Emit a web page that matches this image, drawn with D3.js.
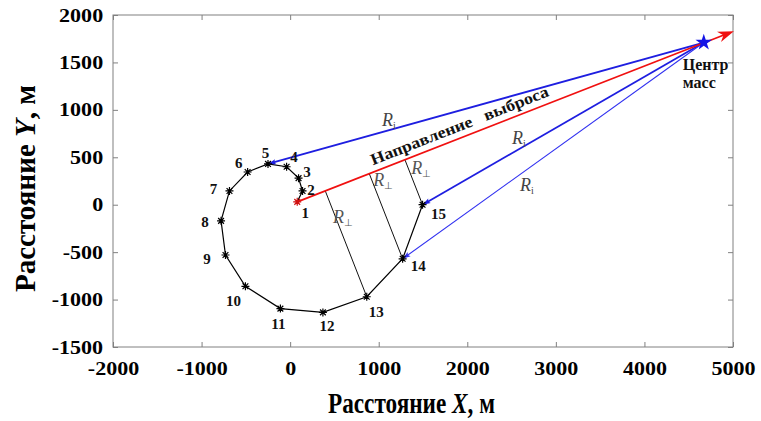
<!DOCTYPE html>
<html><head><meta charset="utf-8">
<script src="https://cdn.jsdelivr.net/npm/d3@7"></script>
<style>
html,body{margin:0;padding:0;background:#fff;}
svg{display:block;}
text{font-family:"Liberation Serif","Times New Roman",serif;}
</style></head>
<body>
<svg id="chart" width="761" height="421"></svg>
<script>
// ---------- data ----------
const xTicks = [-2000, -1000, 0, 1000, 2000, 3000, 4000, 5000];
const yTicks = [-1500, -1000, -500, 0, 500, 1000, 1500, 2000];
const pointIds = [1, 2, 3, 4, 5, 6, 7, 8, 9, 10, 11, 12, 13, 14, 15];
const pointX = [80, 140, 95, -40, -250, -480, -685, -780, -730, -505, -110, 370, 865, 1270, 1495];
const pointY = [30, 145, 280, 400, 430, 345, 145, -170, -530, -860, -1095, -1135, -970, -570, 0];
const centerOfMass = [4670, 1710];
const directionEnd = [5010, 1830];
const rayTargets = [5, 15, 14];          // blue R_i rays: centre of mass -> point
const perpSources = [13, 14, 15];        // R_perp: point -> emission direction
const riLabels = [[1038, 833], [2506, 643], [2596, 148]];
const rpLabels = [[485, -190], [937, 200], [1366, 327]];

// ---------- layout ----------
const svg = d3.select("#chart");
const L = 113, R = 733, T = 15, B = 347;
const x = d3.scaleLinear().domain([-2000, 5000]).range([L, R]);
const y = d3.scaleLinear().domain([-1500, 2000]).range([B, T]);
const frameColor = "#808080";
const fmt = d => String(d);

// label offsets (px) relative to each point
const labelOffsets = [[8,11],[8.5,-1],[8.5,-6],[7.5,-9.5],[-2.5,-11],[-9,-9],[-16,-2],[-16,1.5],[-18.5,4],[-12,15],[-2,15],[4,13.5],[9.5,15.5],[15.5,7],[16,9.5]];

// ---------- axes ----------
function styleAxis(g, hideText){
  g.select(".domain").remove();
  g.selectAll(".tick line").attr("stroke", frameColor).attr("stroke-width", 1);
  if (hideText) g.selectAll(".tick text").remove();
}
function styleTickText(g){
  g.selectAll(".tick text").attr("font-size", 19).attr("font-weight", "bold")
    .attr("fill", "#000").style("font-family", '"Liberation Serif", serif')
    .attr("transform", "scale(1.16,1)");
}
const gl = svg.append("g").attr("transform", `translate(${L},0)`)
  .call(d3.axisLeft(y).tickValues(yTicks).tickSize(-5).tickPadding(8.5).tickFormat(fmt));
styleAxis(gl, false); styleTickText(gl);
const gb = svg.append("g").attr("transform", `translate(0,${B})`)
  .call(d3.axisBottom(x).tickValues(xTicks).tickSize(-5).tickPadding(15).tickFormat(fmt));
styleAxis(gb, false); styleTickText(gb);
const gt = svg.append("g").attr("transform", `translate(0,${T})`)
  .call(d3.axisTop(x).tickValues(xTicks).tickSize(-5));
styleAxis(gt, true);
const gr = svg.append("g").attr("transform", `translate(${R},0)`)
  .call(d3.axisRight(y).tickValues(yTicks).tickSize(-5));
styleAxis(gr, true);
svg.append("rect").attr("x", L).attr("y", T).attr("width", R - L).attr("height", B - T)
  .attr("fill", "none").attr("stroke", frameColor).attr("stroke-width", 1);

// ---------- titles ----------
function title(transform, letter, target){
  const g = svg.append("g").attr("transform", transform);
  const t = g.append("text").attr("text-anchor", "middle").attr("font-size", 29).attr("font-weight", "bold");
  t.append("tspan").text("Расстояние ");
  t.append("tspan").attr("font-style", "italic").text(letter);
  t.append("tspan").text(", м");
  const len = t.node().getComputedTextLength();
  t.attr("transform", `scale(${target / len},1)`);
}
title("translate(35,188.5) rotate(-90)", "Y", 207);
title("translate(411.5,413)", "X", 167);

// ---------- geometry helpers ----------
const pts = pointIds.map((id, i) => ({id, px: x(pointX[i]), py: y(pointY[i])}));
const ptById = id => pts.find(p => p.id === id);
const cm = {px: x(centerOfMass[0]), py: y(centerOfMass[1])};
const p1 = ptById(1);
const dirEnd = {px: x(directionEnd[0]), py: y(directionEnd[1])};
const ux0 = cm.px - p1.px, uy0 = cm.py - p1.py, ul = Math.hypot(ux0, uy0);
const ux = ux0 / ul, uy = uy0 / ul;

function arrowHead(g, tip, from, len, wid, color, notch){
  const dx = tip.px - from.px, dy = tip.py - from.py, l = Math.hypot(dx, dy);
  const ax = dx / l, ay = dy / l, nx = -ay, ny = ax;
  const bx = tip.px - ax * len, by = tip.py - ay * len;
  const mx = tip.px - ax * len * (1 - notch), my = tip.py - ay * len * (1 - notch);
  g.append("path").attr("d", `M${tip.px},${tip.py}L${bx + nx * wid / 2},${by + ny * wid / 2}L${mx},${my}L${bx - nx * wid / 2},${by - ny * wid / 2}Z`)
    .attr("fill", color).attr("stroke", "none");
}

// ---------- loop path ----------
const line = d3.line().x(d => d.px).y(d => d.py);
svg.append("path").datum(pts).attr("d", line).attr("fill", "none")
  .attr("stroke", "#000").attr("stroke-width", 1.2);

// ---------- perpendiculars ----------
perpSources.forEach(id => {
  const q = ptById(id);
  const t = (q.px - p1.px) * ux + (q.py - p1.py) * uy;
  const fx = p1.px + t * ux, fy = p1.py + t * uy;
  svg.append("line").attr("x1", q.px).attr("y1", q.py).attr("x2", fx).attr("y2", fy)
    .attr("stroke", "#111").attr("stroke-width", 1);
});

// ---------- blue rays ----------
const rays = svg.append("g");
rayTargets.forEach((id, k) => {
  const q = ptById(id);
  const w = k === 2 ? 1.1 : 1.8;
  const col = k === 2 ? "#3030f0" : "#1e1ee0";
  rays.append("line").attr("x1", cm.px).attr("y1", cm.py).attr("x2", q.px).attr("y2", q.py)
    .attr("stroke", col).attr("stroke-width", w);
  arrowHead(rays, q, cm, 8, 5, col, 0.2);
});

// ---------- emission direction ----------
svg.append("line").attr("x1", p1.px).attr("y1", p1.py).attr("x2", dirEnd.px - ux * 8).attr("y2", dirEnd.py - uy * 8)
  .attr("stroke", "#f01010").attr("stroke-width", 1.7);
arrowHead(svg, dirEnd, p1, 16, 11, "#f01010", 0.3);

// ---------- markers ----------
const mk = svg.append("g").attr("stroke", "#000").attr("stroke-width", 1.2);
pts.forEach(p => {
  const r = 4;
  const d = `M${p.px - r},${p.py}L${p.px + r},${p.py}M${p.px},${p.py - r}L${p.px},${p.py + r}` +
    `M${p.px - r * 0.72},${p.py - r * 0.72}L${p.px + r * 0.72},${p.py + r * 0.72}M${p.px - r * 0.72},${p.py + r * 0.72}L${p.px + r * 0.72},${p.py - r * 0.72}`;
  mk.append("path").attr("d", d).attr("stroke", p.id === 1 ? "#d01010" : "#000");
});

// ---------- point labels ----------
svg.append("g").selectAll("text").data(pts).join("text")
  .attr("x", (d, i) => d.px + labelOffsets[i][0])
  .attr("y", (d, i) => d.py + labelOffsets[i][1])
  .attr("text-anchor", "middle").attr("dominant-baseline", "central")
  .attr("font-size", 15).attr("font-weight", "bold").attr("fill", "#111")
  .text(d => d.id);

// ---------- centre of mass star ----------
svg.append("path").attr("d", d3.symbol(d3.symbolStar, 85)())
  .attr("transform", `translate(${cm.px},${cm.py})`).attr("fill", "#1414e6");
svg.append("text").attr("x", cm.px - 21).attr("y", cm.py + 27)
  .attr("font-size", 16).attr("font-weight", "bold").attr("fill", "#111").text("Центр");
svg.append("text").attr("x", cm.px - 21).attr("y", cm.py + 45)
  .attr("font-size", 16).attr("font-weight", "bold").attr("fill", "#111").text("масс");

// ---------- direction label ----------
const ang = Math.atan2(uy, ux) * 180 / Math.PI;
const s0 = 84, off = 6.5;
const tx = p1.px + ux * s0 + uy * off, ty = p1.py + uy * s0 - ux * off;
svg.append("text").attr("transform", `translate(${tx},${ty}) rotate(${ang})`)
  .attr("font-size", 16).attr("font-weight", "bold").attr("fill", "#111")
  .attr("textLength", 190).attr("lengthAdjust", "spacingAndGlyphs")
  .text("Направление\u00A0\u00A0\u00A0выброса");

// ---------- R labels ----------
function rLabel(pos, sub, color){
  const t = svg.append("text").attr("x", x(pos[0])).attr("y", y(pos[1]))
    .attr("font-size", 18).attr("fill", color);
  t.append("tspan").attr("font-style", "italic").text("R");
  t.append("tspan").attr("font-size", 10).attr("dy", 3).text(sub);
}
riLabels.forEach(p => rLabel(p, "i", "#444"));
rpLabels.forEach(p => rLabel(p, "\u22A5", "#555"));
</script>
</body></html>
